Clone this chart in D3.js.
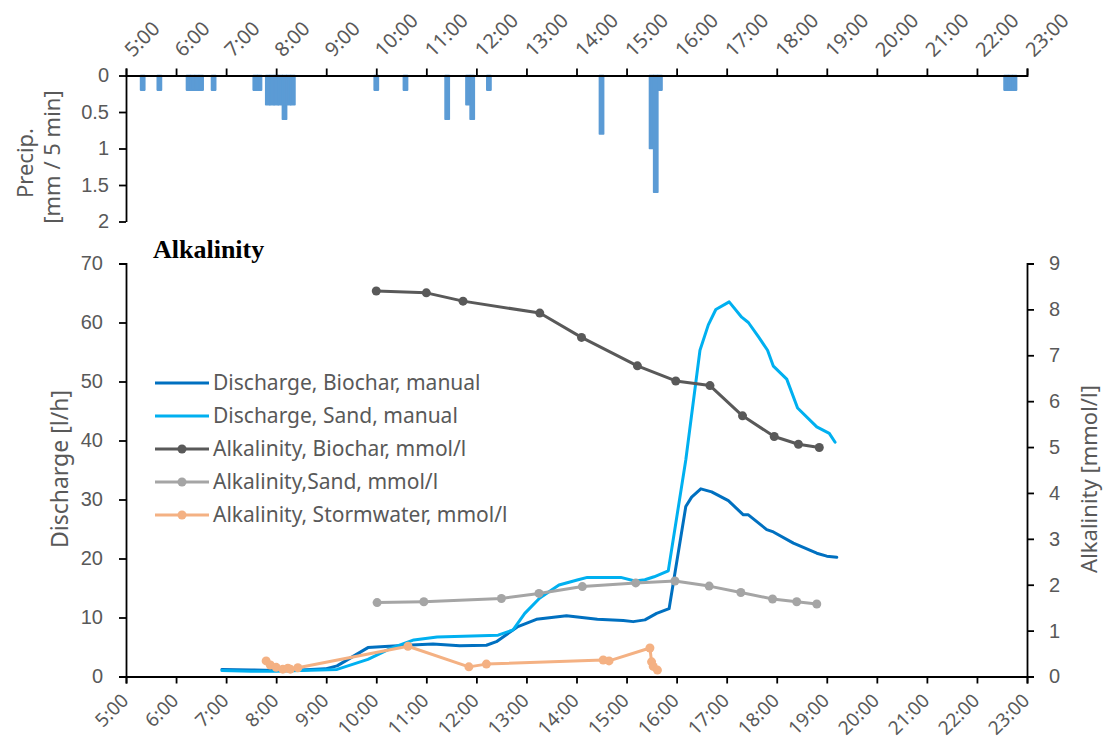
<!DOCTYPE html>
<html>
<head>
<meta charset="utf-8">
<script src="https://cdn.jsdelivr.net/npm/d3@7/dist/d3.min.js"></script>
<style>
  body { margin: 0; background: #fff; }
  svg { display: block; font-family: "Noto Sans", sans-serif; }
  .tick text { fill: #595959; font-size: 20px; }
  .axis path, .axis line { stroke: #000; stroke-width: 1.8px; }
</style>
</head>
<body>
<svg id="chart" width="1105" height="740"></svg>
<script>
// ---- data ----
const hourTicks = ["5:00","6:00","7:00","8:00","9:00","10:00","11:00","12:00","13:00","14:00","15:00","16:00","17:00","18:00","19:00","20:00","21:00","22:00","23:00"];
const precipTicks = [0, 0.5, 1, 1.5, 2];
const dischargeTicks = [0, 10, 20, 30, 40, 50, 60, 70];
const alkTicks = [0, 1, 2, 3, 4, 5, 6, 7, 8, 9];

// precipitation, 5-minute totals (mm), time stamp = interval centre
const precipTime  = ["5:20","5:40","6:15","6:20","6:25","6:30","6:45","7:35","7:40","7:50","7:55","8:00","8:05","8:10","8:15","8:20","10:00","10:35","11:25","11:50","11:55","12:15","14:30","15:30","15:35","15:40","22:35","22:40","22:45"];
const precipValue = [0.2,0.2,0.2,0.2,0.2,0.2,0.2,0.2,0.2,0.4,0.4,0.4,0.4,0.6,0.4,0.4,0.2,0.2,0.6,0.4,0.6,0.2,0.8,1.0,1.6,0.2,0.2,0.2,0.2];

// discharge, biochar column (l/h)
const qBiocharTime  = ["6:55","7:30","8:00","8:30","8:59","9:13","9:50","10:36","11:08","11:40","12:12","12:24","12:49","13:12","13:48","14:25","14:56","15:08","15:22","15:36","15:51","16:11","16:18","16:29","16:42","17:02","17:20","17:26","17:48","17:56","18:20","18:48","19:00","19:12"];
const qBiocharValue = [1.2,1.1,1.0,1.1,1.3,1.8,4.9,5.3,5.5,5.2,5.3,5.9,8.4,9.7,10.3,9.7,9.5,9.3,9.6,10.7,11.5,28.8,30.4,31.8,31.3,29.8,27.4,27.4,24.9,24.5,22.6,20.9,20.4,20.2];

// discharge, sand column (l/h)
const qSandTime  = ["6:55","7:30","8:00","8:30","9:13","9:50","10:18","10:45","11:13","12:26","12:44","12:58","13:16","13:39","14:02","14:13","14:53","15:10","15:22","15:33","15:50","16:11","16:28","16:38","16:47","17:03","17:18","17:26","17:38","17:49","17:56","18:12","18:25","18:48","19:03","19:10"];
const qSandValue = [1.0,0.9,0.9,1.0,1.2,2.9,4.8,6.2,6.7,7.0,7.9,10.7,13.3,15.5,16.4,16.8,16.8,16.2,16.4,16.9,17.9,36.7,55.3,59.6,62.2,63.5,60.9,60.0,57.6,55.3,52.6,50.4,45.5,42.3,41.2,39.7];

// alkalinity (mmol/l)
const alkBiocharTime  = ["10:00","11:00","11:44","13:16","14:06","15:13","15:59","16:40","17:19","17:57","18:26","18:51"];
const alkBiocharValue = [8.40,8.36,8.18,7.92,7.39,6.77,6.44,6.34,5.68,5.23,5.06,4.99];

const alkSandTime  = ["10:01","10:57","12:30","13:15","14:07","15:11","15:58","16:39","17:17","17:55","18:24","18:48"];
const alkSandValue = [1.61,1.63,1.70,1.81,1.96,2.04,2.08,1.97,1.83,1.69,1.63,1.58];

const alkStormTime  = ["7:48","7:53","8:00","8:08","8:14","8:17","8:26","10:38","11:51","12:12","14:32","14:39","15:28","15:30","15:32","15:37"];
const alkStormValue = [0.34,0.25,0.20,0.16,0.18,0.16,0.19,0.66,0.21,0.27,0.36,0.34,0.62,0.32,0.22,0.14];

const legendLabels = ["Discharge, Biochar, manual","Discharge, Sand, manual","Alkalinity, Biochar, mmol/l","Alkalinity,Sand, mmol/l","Alkalinity, Stormwater, mmol/l"];

// ---- helpers ----
const toHours = s => { const [h, m] = s.split(":").map(Number); return h + m / 60; };
const zip = (t, v) => t.map((d, i) => ({ t: toHours(d), v: v[i] }));

const svg = d3.select("#chart");
const textColor = "#595959";

// ---- scales ----
const x = d3.scaleLinear().domain([5, 23]).range([126, 1027]);
const yP = d3.scaleLinear().domain([0, 2]).range([75.5, 221.5]);
const yQ = d3.scaleLinear().domain([0, 70]).range([676.5, 263.5]);
const yA = d3.scaleLinear().domain([0, 9]).range([676.5, 263.5]);
const hourVals = hourTicks.map(toHours);

// ---- precipitation panel ----
const binW = x(5 + 5 / 60) - x(5);
svg.append("g").selectAll("rect")
  .data(zip(precipTime, precipValue))
  .join("rect")
  .attr("x", d => x(d.t) - binW / 2)
  .attr("y", yP(0))
  .attr("width", binW)
  .attr("height", d => yP(d.v) - yP(0))
  .attr("fill", "#5B9BD5")
  .attr("stroke", "#5B9BD5")
  .attr("stroke-width", 1.6)
  .attr("stroke-linejoin", "round");

svg.append("g").attr("class", "axis")
  .attr("transform", `translate(0,${yP(0)})`)
  .call(d3.axisTop(x).tickValues(hourVals).tickSize(7).tickSizeOuter(7).tickFormat(""));
svg.append("g").selectAll("text")
  .data(hourTicks)
  .join("text")
  .attr("transform", d => `translate(${x(toHours(d)) + 2},${53}) rotate(-45)`)
  .attr("dy", "0.35em")
  .attr("text-anchor", "start")
  .attr("fill", textColor)
  .attr("font-size", 20)
  .text(d => d);

svg.append("g").attr("class", "axis")
  .attr("transform", `translate(${x(5)},0)`)
  .call(d3.axisLeft(yP).tickValues(precipTicks).tickSize(7).tickSizeOuter(0).tickPadding(10).tickFormat(d3.format("")));

svg.append("text")
  .attr("transform", `translate(33,${163}) rotate(-90)`)
  .attr("text-anchor", "middle").attr("fill", textColor).attr("font-size", 22)
  .text("Precip.");
svg.append("text")
  .attr("transform", `translate(60,${157}) rotate(-90)`)
  .attr("text-anchor", "middle").attr("fill", textColor).attr("font-size", 22)
  .text("[mm / 5 min]");

// ---- lower panel axes ----
svg.append("g").attr("class", "axis")
  .attr("transform", `translate(0,${yQ(0)})`)
  .call(d3.axisBottom(x).tickValues(hourVals).tickSize(7).tickSizeOuter(7).tickFormat(""));
svg.append("g").selectAll("text")
  .data(hourTicks)
  .join("text")
  .attr("transform", d => `translate(${x(toHours(d)) - 1},${697}) rotate(-45)`)
  .attr("dy", "0.35em")
  .attr("text-anchor", "end")
  .attr("fill", textColor)
  .attr("font-size", 19)
  .text(d => d);

svg.append("g").attr("class", "axis")
  .attr("transform", `translate(${x(5)},0)`)
  .call(d3.axisLeft(yQ).tickValues(dischargeTicks).tickSize(7).tickSizeOuter(7).tickPadding(16));

svg.append("g").attr("class", "axis")
  .attr("transform", `translate(${x(23)},0)`)
  .call(d3.axisRight(yA).tickValues(alkTicks).tickSize(7).tickSizeOuter(7).tickPadding(15));

svg.append("text")
  .attr("transform", `translate(68,${469}) rotate(-90)`)
  .attr("text-anchor", "middle").attr("fill", textColor).attr("font-size", 23)
  .text("Discharge [l/h]");
svg.append("text")
  .attr("transform", `translate(1097,${479}) rotate(-90)`)
  .attr("text-anchor", "middle").attr("fill", textColor).attr("font-size", 22)
  .text("Alkalinity [mmol/l]");

svg.append("text")
  .attr("x", 153).attr("y", 258)
  .attr("font-family", "'Liberation Serif', 'Times New Roman', serif")
  .attr("font-weight", "bold").attr("font-size", 26).attr("fill", "#000")
  .text("Alkalinity");

// ---- series ----
const series = [
  { data: zip(qBiocharTime, qBiocharValue), y: yQ, color: "#0070C0", marker: false },
  { data: zip(qSandTime, qSandValue), y: yQ, color: "#00B0F0", marker: false },
  { data: zip(alkBiocharTime, alkBiocharValue), y: yA, color: "#595959", marker: true },
  { data: zip(alkSandTime, alkSandValue), y: yA, color: "#A5A5A5", marker: true },
  { data: zip(alkStormTime, alkStormValue), y: yA, color: "#F4B183", marker: true }
];

series.forEach(s => {
  const line = d3.line().x(d => x(d.t)).y(d => s.y(d.v));
  svg.append("path")
    .datum(s.data)
    .attr("d", line)
    .attr("fill", "none")
    .attr("stroke", s.color)
    .attr("stroke-width", 3)
    .attr("stroke-linejoin", "round")
    .attr("stroke-linecap", "round");
  if (s.marker) {
    svg.append("g").selectAll("circle")
      .data(s.data)
      .join("circle")
      .attr("cx", d => x(d.t))
      .attr("cy", d => s.y(d.v))
      .attr("r", 4.5)
      .attr("fill", s.color);
  }
});

// ---- legend ----
const legend = svg.append("g");
legendLabels.forEach((label, i) => {
  const ly = 383 + i * 33;
  const s = series[i];
  legend.append("line")
    .attr("x1", 155).attr("x2", 209).attr("y1", ly).attr("y2", ly)
    .attr("stroke", s.color).attr("stroke-width", 3);
  if (s.marker) {
    legend.append("circle").attr("cx", 182).attr("cy", ly).attr("r", 4.5).attr("fill", s.color);
  }
  legend.append("text")
    .attr("x", 213).attr("y", ly).attr("dy", "0.35em")
    .attr("fill", textColor).attr("font-size", 21)
    .text(label);
});
</script>
</body>
</html>
